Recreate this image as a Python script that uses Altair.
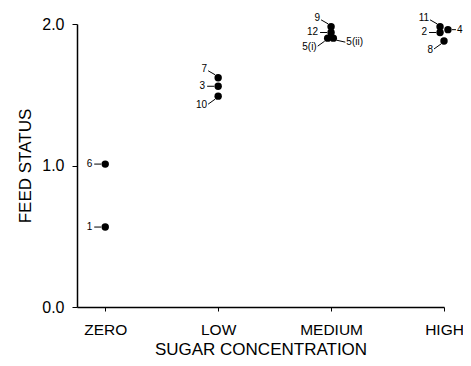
import altair as alt
import pandas as pd

# Data
categories = ["ZERO", "LOW", "MEDIUM", "HIGH"]
point_labels = ["6", "1", "7", "3", "10", "9", "12", "5(i)", "5(ii)", "11", "2", "4", "8"]
point_cat = [0, 0, 1, 1, 1, 2, 2, 2, 2, 3, 3, 3, 3]
point_jitter = [0, 0, 0, 0, 0, 0, 0, -0.03, 0.02, -0.035, -0.035, 0.035, 0]
feed_status = [1.01, 0.565, 1.62, 1.56, 1.49, 1.98, 1.94, 1.90, 1.90, 1.98, 1.94, 1.96, 1.88]
label_side = ["L", "L", "UL", "L", "DL", "UL", "L", "DL", "DR", "UL", "L", "R", "DL"]

df = pd.DataFrame({
    "label": point_labels,
    "x": [c + j for c, j in zip(point_cat, point_jitter)],
    "y": feed_status,
    "side": label_side,
})

FONT = "Liberation Sans"
label_expr = "[" + ",".join("'" + c + "'" for c in categories) + "][datum.value]"

xs = alt.X("x:Q", scale=alt.Scale(domain=[-0.25, 3], nice=False, zero=False),
           axis=alt.Axis(values=[0, 1, 2, 3],
                         labelExpr=label_expr,
                         title="SUGAR CONCENTRATION", grid=False,
                         labelFont=FONT, labelFontSize=15.5, labelColor="black",
                         titleFont=FONT, titleFontSize=17, titleFontWeight="normal",
                         titleColor="black", tickSize=4, tickColor="black",
                         domainColor="black", domainWidth=1.5, labelPadding=11,
                         titlePadding=4, labelFlush=False))
ys = alt.Y("y:Q", scale=alt.Scale(domain=[0, 2], nice=False),
           axis=alt.Axis(values=[0, 1, 2], format=".1f", title="FEED STATUS", grid=False,
                         labelFont=FONT, labelFontSize=16, labelColor="black",
                         titleFont=FONT, titleFontSize=17, titleFontWeight="normal",
                         titleColor="black", tickSize=5, tickColor="black",
                         domainColor="black", domainWidth=1.5, labelPadding=8,
                         titlePadding=7))

base = alt.Chart(df)

points = base.mark_point(filled=True, color="black", size=55, opacity=1).encode(x=xs, y=ys)

leader_specs = {
    "L": dict(xOffset=-4, x2Offset=-11, yOffset=0, y2Offset=0),
    "UL": dict(xOffset=-3, x2Offset=-10, yOffset=-3, y2Offset=-7),
    "DL": dict(xOffset=-3, x2Offset=-10, yOffset=3, y2Offset=8),
    "R": dict(xOffset=4, x2Offset=8, yOffset=0, y2Offset=0),
    "DR": dict(xOffset=3, x2Offset=12, yOffset=2, y2Offset=4),
}
text_specs = {
    "L": dict(dx=-13, dy=0, align="right"),
    "UL": dict(dx=-11, dy=-9, align="right"),
    "DL": dict(dx=-11, dy=9, align="right"),
    "R": dict(dx=9, dy=0, align="left"),
    "DR": dict(dx=13, dy=4, align="left"),
}

layers = [points]
for side, spec in leader_specs.items():
    layers.append(
        base.transform_filter(alt.datum.side == side)
        .mark_rule(color="black", strokeWidth=1, **spec)
        .encode(x="x:Q", x2="x:Q", y="y:Q", y2="y:Q")
    )
for side, spec in text_specs.items():
    layers.append(
        base.transform_filter(alt.datum.side == side)
        .mark_text(font=FONT, fontSize=10, color="black", baseline="middle", **spec)
        .encode(x="x:Q", y="y:Q", text="label:N")
    )

chart = alt.layer(*layers).properties(
    width=367, height=283,
    autosize=alt.AutoSizeParams(type="none"),
    padding={"left": 69, "top": 16, "right": 19, "bottom": 51},
).configure(background="white").configure_view(strokeWidth=0, stroke="transparent")

chart.save("out.html", embed_options={"renderer": "svg", "actions": False})
